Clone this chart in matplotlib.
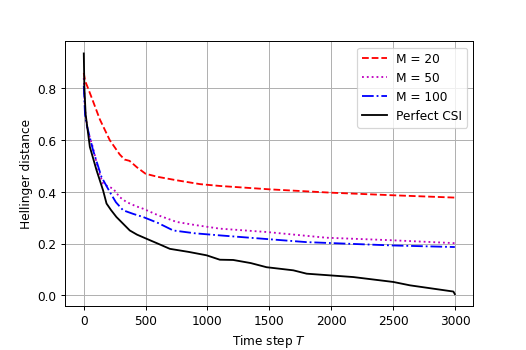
import matplotlib
matplotlib.use('Agg')
import matplotlib.pyplot as plt

# values
t_m20 = [0, 10, 35, 75, 130, 210, 290, 330, 370, 430, 500, 600, 750, 940, 1100, 1500, 2000, 2500, 3000]
h_m20 = [0.86, 0.83, 0.80, 0.75, 0.68, 0.60, 0.545, 0.525, 0.52, 0.495, 0.47, 0.458, 0.445, 0.43,
         0.423, 0.41, 0.397, 0.387, 0.378]

t_m50 = [0, 10, 30, 75, 120, 156, 200, 237, 290, 345, 420, 480, 600, 750, 900, 1100, 1480, 1960, 2500, 3000]
h_m50 = [0.84, 0.72, 0.64, 0.57, 0.48, 0.432, 0.42, 0.413, 0.38, 0.361, 0.345, 0.335, 0.31, 0.284,
         0.272, 0.258, 0.245, 0.223, 0.213, 0.202]

t_m100 = [0, 10, 21, 75, 143, 210, 260, 318, 400, 480, 600, 723, 900, 1100, 1260, 1800, 2500, 3000]
h_m100 = [0.81, 0.70, 0.664, 0.561, 0.458, 0.40, 0.36, 0.329, 0.315, 0.303, 0.28, 0.251, 0.24,
          0.232, 0.226, 0.206, 0.193, 0.187]

t_csi = [0, 5, 15, 49, 103, 156, 184, 220, 264, 345, 372, 430, 507, 600, 696, 850, 993, 1100, 1208,
         1350, 1478, 1694, 1802, 2179, 2503, 2637, 2988, 3000]
h_csi = [0.935, 0.80, 0.70, 0.574, 0.484, 0.406, 0.355, 0.33, 0.303, 0.264, 0.251, 0.235, 0.219,
         0.2, 0.18, 0.168, 0.155, 0.138, 0.137, 0.125, 0.109, 0.097, 0.084, 0.071, 0.052, 0.039,
         0.015, 0.005]

fig, ax = plt.subplots(figsize=(6, 4), dpi=526 / 6)

ax.plot(t_m20, h_m20, 'r--', label='M = 20')
ax.plot(t_m50, h_m50, color='m', linestyle=':', label='M = 50')
ax.plot(t_m100, h_m100, 'b-.', label='M = 100')
ax.plot(t_csi, h_csi, 'k-', label='Perfect CSI')

ax.set_xticks([0, 500, 1000, 1500, 2000, 2500, 3000])
ax.set_yticks([0.0, 0.2, 0.4, 0.6, 0.8])
ax.set_xlabel('Time step $T$')
ax.set_ylabel('Hellinger distance')
ax.grid(True)
ax.legend(loc='upper right')

fig.subplots_adjust(left=0.124, right=0.9, top=0.88, bottom=0.125)
fig.savefig('out.png', dpi=526 / 6)
